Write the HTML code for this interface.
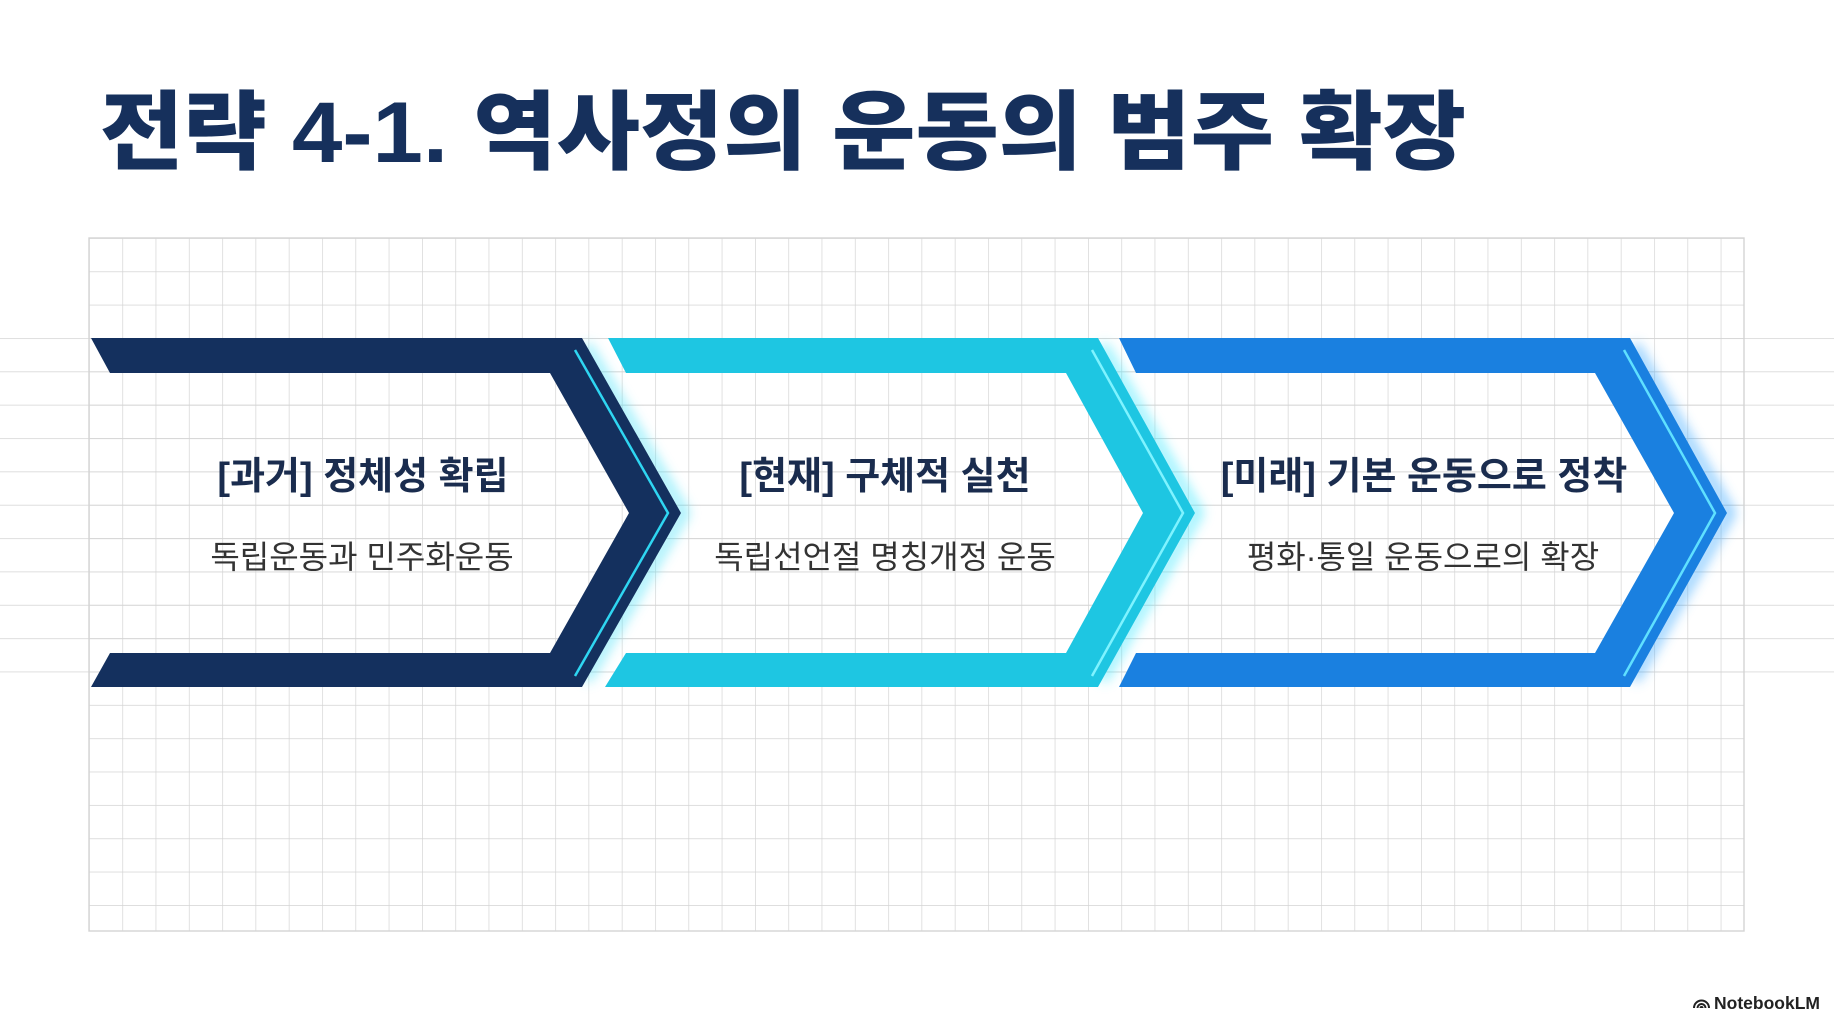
<!DOCTYPE html>
<html><head><meta charset="utf-8"><style>
html,body{margin:0;padding:0;background:#fff;}
svg{display:block;}
</style></head><body>
<svg width="1834" height="1024" viewBox="0 0 1834 1024" xmlns="http://www.w3.org/2000/svg">
<defs>
<pattern id="g" x="89" y="238" width="33.3" height="33.35" patternUnits="userSpaceOnUse">
<path d="M0 0H33.3M0 0V33.35" stroke="#d4d4d4" stroke-width="1.4" fill="none"/>
</pattern>
<pattern id="h" x="0" y="238" width="33.3" height="33.35" patternUnits="userSpaceOnUse">
<path d="M0 0H33.3" stroke="#d4d4d4" stroke-width="1.4" fill="none"/>
</pattern>
<filter id="blur" x="-50%" y="-20%" width="200%" height="140%">
<feGaussianBlur stdDeviation="6"/>
</filter>
</defs>
<rect width="1834" height="1024" fill="#fff"/>
<rect x="0" y="338" width="1834" height="350" fill="url(#h)"/>
<rect x="89" y="238" width="1655" height="693" fill="url(#g)"/>
<rect x="89" y="238" width="1655" height="693" fill="none" stroke="#d4d4d4" stroke-width="1.4"/>

<text x="100" y="162" font-family="'Liberation Sans','Noto Sans CJK KR',sans-serif" font-weight="900" font-size="86" fill="#16305c" textLength="1366" lengthAdjust="spacingAndGlyphs">전략 4-1. 역사정의 운동의 범주 확장</text>

<!-- glows -->
<path d="M586 345 L684 513 L586 680" stroke="#3ee0f8" stroke-width="10" fill="none" opacity="0.55" filter="url(#blur)"/>
<path d="M1102 345 L1198 513 L1102 680" stroke="#3ee8ff" stroke-width="10" fill="none" opacity="0.6" filter="url(#blur)"/>
<path d="M1634 345 L1730 513 L1634 680" stroke="#3aa8ff" stroke-width="10" fill="none" opacity="0.6" filter="url(#blur)"/>

<!-- shape 1 -->
<polygon points="91,338 582,338 681,513 582,687 91,687 110,653 550,653 629,513 550,373 110,373" fill="#14305e"/>
<path d="M575 350 L668 513 L575 676" stroke="#2fd6f2" stroke-width="2.5" fill="none"/>

<!-- shape 2 -->
<polygon points="608,338 1098,338 1195,513 1098,687 605,687 626,653 1066,653 1143,513 1066,373 626,373" fill="#1ec6e2"/>
<path d="M1092 350 L1183 513 L1092 676" stroke="#7ff3ff" stroke-width="2.5" fill="none"/>

<!-- shape 3 -->
<polygon points="1119,338 1630,338 1727,513 1630,687 1119,687 1136,653 1595,653 1674,513 1595,373 1136,373" fill="#1a80e0"/>
<path d="M1624 350 L1715 513 L1624 676" stroke="#5fe0ff" stroke-width="2.5" fill="none"/>

<g font-family="'Liberation Sans','Noto Sans CJK KR',sans-serif" text-anchor="middle">
<text x="363" y="489" font-size="38" font-weight="700" fill="#1a2c4e">[과거] 정체성 확립</text>
<text x="362" y="568" font-size="32" fill="#333">독립운동과 민주화운동</text>
<text x="885" y="489" font-size="38" font-weight="700" fill="#1a2c4e">[현재] 구체적 실천</text>
<text x="885" y="568" font-size="32" fill="#333">독립선언절 명칭개정 운동</text>
<text x="1424" y="489" font-size="38" font-weight="700" fill="#1a2c4e">[미래] 기본 운동으로 정착</text>
<text x="1423" y="568" font-size="32" fill="#333">평화·통일 운동으로의 확장</text>
</g>

<g transform="translate(1693,993)" fill="none" stroke="#222" stroke-width="2">
<path d="M1 15 A7.5 7.5 0 0 1 16 15"/>
<path d="M4.5 15 A4 4 0 0 1 12.5 15"/>
<path d="M7.5 15 A1 1 0 0 1 9.5 15"/>
</g>
<text x="1714" y="1009" font-family="'Liberation Sans',sans-serif" font-size="17.5" font-weight="700" fill="#222" textLength="106" lengthAdjust="spacingAndGlyphs">NotebookLM</text>
</svg>
</body></html>
